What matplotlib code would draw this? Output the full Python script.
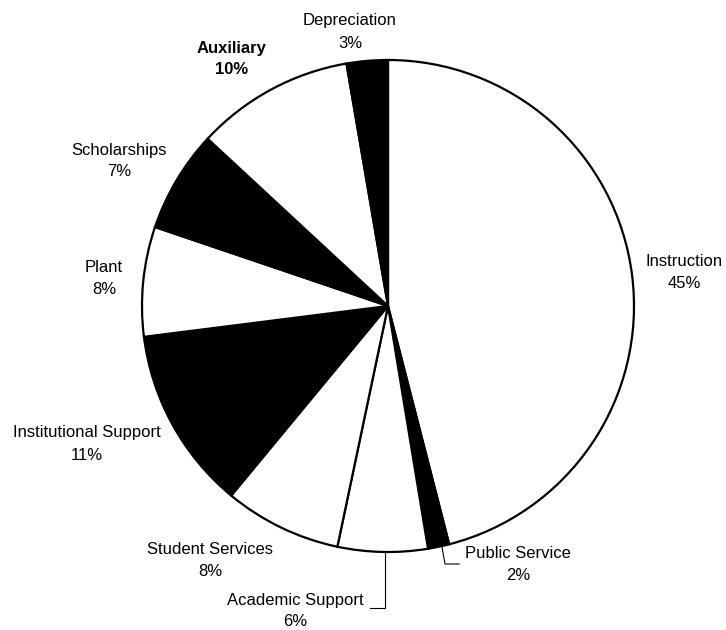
import matplotlib.pyplot as plt

plt.rcParams['font.family'] = ['Liberation Sans', 'DejaVu Sans']

# slices clockwise from the top
names = ['Instruction', 'Public Service', 'Academic Support', 'Student Services',
         'Institutional Support', 'Plant', 'Scholarships', 'Auxiliary', 'Depreciation']
shares = [46.0, 1.4, 5.9, 7.7, 12.0, 7.2, 6.7, 10.4, 2.7]   # measured wedge sizes
pct_labels = ['45%', '2%', '6%', '8%', '11%', '8%', '7%', '10%', '3%']
fills = ['white', 'black', 'white', 'white', 'black', 'white', 'black', 'white', 'black']

W, H = 726, 630
fig = plt.figure(figsize=(W / 100, H / 100), dpi=100)
ax = fig.add_axes([0, 0, 1, 1])


def py(y):
    # image rows -> data y
    return H - y


ax.pie(shares, colors=fills, startangle=90, counterclock=False,
       center=(388, py(306)), radius=246,
       wedgeprops=dict(edgecolor='black', linewidth=1.6))

# pie() resets the limits, so set them afterwards
ax.set_xlim(0, W)
ax.set_ylim(0, H)
ax.set_aspect('equal')
ax.axis('off')

# label positions (text centres, image pixels)
label_pos = {
    'Instruction': (684, 262),
    'Public Service': (518, 554),
    'Academic Support': (295, 600),
    'Student Services': (210, 550),
    'Institutional Support': (87, 433),
    'Plant': (104, 268),
    'Scholarships': (119, 150),
    'Auxiliary': (232, 48),
    'Depreciation': (350, 21),
}
bold = {'Auxiliary'}

for name, pct in zip(names, pct_labels):
    x, y = label_pos[name]
    w = 'bold' if name in bold else 'normal'
    ax.text(x, py(y), name, ha='center', va='center', fontsize=12, fontweight=w)
    ax.text(x, py(y + 22), pct, ha='center', va='center', fontsize=12, fontweight=w)

# leader lines
ax.plot([385, 385, 370], [py(552), py(608), py(608)], color='black', lw=0.8)
ax.plot([442, 445, 459], [py(547), py(564), py(564)], color='black', lw=0.8)

fig.savefig('out.png', dpi=100)
